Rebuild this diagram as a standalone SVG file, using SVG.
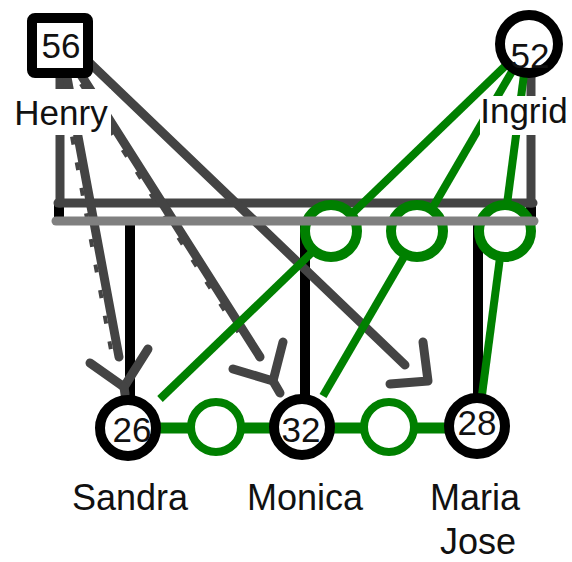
<svg xmlns="http://www.w3.org/2000/svg" width="572" height="562" viewBox="0 0 572 562">
<style>
.dg{stroke:#444;stroke-width:9;fill:none;stroke-linecap:round;stroke-linejoin:round}
.jag{stroke:#444;stroke-width:4;fill:none;stroke-dasharray:8 18}
.blk{stroke:#000;stroke-width:10;fill:none}
.gr{stroke:#008000;stroke-width:8;fill:none}
.gc{stroke:#008000;fill:#fff}
.pc{stroke:#000;stroke-width:10;fill:#fff}
.num{font-family:"Liberation Sans",Arial,sans-serif;font-size:35px;fill:#111;text-anchor:middle}
.nm{font-family:"Liberation Sans",Arial,sans-serif;fill:#111;text-anchor:middle}
</style>
<rect width="572" height="562" fill="#fff"/>
<g id="connectors">
  <line class="blk" x1="59" y1="203" x2="59" y2="221" stroke-width="8"/>
  <line class="blk" x1="531" y1="203" x2="531" y2="221" stroke-width="8"/>
  <line class="dg" x1="60" y1="45" x2="60" y2="203" stroke-width="10"/>
  <line class="dg" x1="531" y1="44" x2="531" y2="203" stroke-width="9"/>
  <line class="dg" x1="58" y1="203" x2="533" y2="203" stroke-width="10" stroke-linecap="butt"/>
  <line class="blk" x1="130" y1="221" x2="130" y2="400"/>
  <line class="blk" x1="305" y1="221" x2="305" y2="400"/>
  <line class="blk" x1="478" y1="221" x2="478" y2="400"/>
  <line class="dg" x1="61" y1="45" x2="119" y2="357" stroke-width="8"/>
  <line class="jag" x1="62" y1="60" x2="115" y2="350" transform="translate(-4,0)"/>
  <polyline class="dg" points="90,363 124,387 148,349" stroke-width="9"/>
  <line class="dg" x1="124" y1="387" x2="125" y2="394" stroke-width="9"/>
  <line class="dg" x1="62" y1="45" x2="260" y2="357" stroke-width="8"/>
  <line class="jag" x1="70" y1="60" x2="250" y2="344" transform="translate(-3,2)"/>
  <polyline class="dg" points="233,369 273,381 283,342" stroke-width="9"/>
  <line class="dg" x1="273" y1="381" x2="280" y2="393" stroke-width="9"/>
  <line class="dg" x1="71" y1="45" x2="405" y2="365" stroke-width="8"/>
  <polyline class="dg" points="423,342 428,381 390,384" stroke-width="9"/>
  <line class="gr" x1="528" y1="44" x2="160" y2="399"/>
  <line class="gr" x1="528" y1="44" x2="323" y2="396"/>
  <line class="gr" x1="528" y1="44" x2="482" y2="395"/>
  <circle class="gc" cx="331" cy="231" r="26" stroke-width="10"/>
  <circle class="gc" cx="417" cy="231" r="26" stroke-width="10"/>
  <circle class="gc" cx="505" cy="231" r="26" stroke-width="10"/>
  <line x1="56" y1="221" x2="534" y2="221" stroke="#808080" stroke-width="9" stroke-linecap="round"/>
  <line x1="128" y1="428" x2="477" y2="428" stroke="#008000" stroke-width="11"/>
  <circle class="gc" cx="216" cy="427" r="25" stroke-width="8"/>
  <circle class="gc" cx="389" cy="427" r="25" stroke-width="8"/>
</g>
<g id="henry">
  <rect x="32" y="18" width="56" height="55" rx="3" fill="#fff" stroke="#000" stroke-width="10"/>
  <text class="num" x="61" y="58" font-size="36">56</text>
  <rect x="11" y="89" width="100" height="46" fill="#fff"/>
  <text class="nm" x="61" y="125" font-size="35">Henry</text>
</g>
<g id="ingrid">
  <circle class="pc" cx="529" cy="44" r="29"/>
  <text class="num" x="530" y="68">52</text>
  <rect x="480" y="96" width="90" height="39" fill="#fff"/>
  <text class="nm" x="524" y="123" font-size="35">Ingrid</text>
</g>
<g id="sandra">
  <circle class="pc" cx="128" cy="428" r="28"/>
  <text class="num" x="132" y="442">26</text>
  <text class="nm" x="130" y="510" font-size="36">Sandra</text>
</g>
<g id="monica">
  <circle class="pc" cx="302" cy="427" r="28"/>
  <text class="num" x="301" y="442">32</text>
  <text class="nm" x="305" y="510" font-size="36">Monica</text>
</g>
<g id="mariajose">
  <circle class="pc" cx="477" cy="426" r="28"/>
  <text class="num" x="477" y="435">28</text>
  <text class="nm" x="475" y="510" font-size="36">Maria</text>
  <text class="nm" x="478" y="554" font-size="36">Jose</text>
</g>
</svg>
